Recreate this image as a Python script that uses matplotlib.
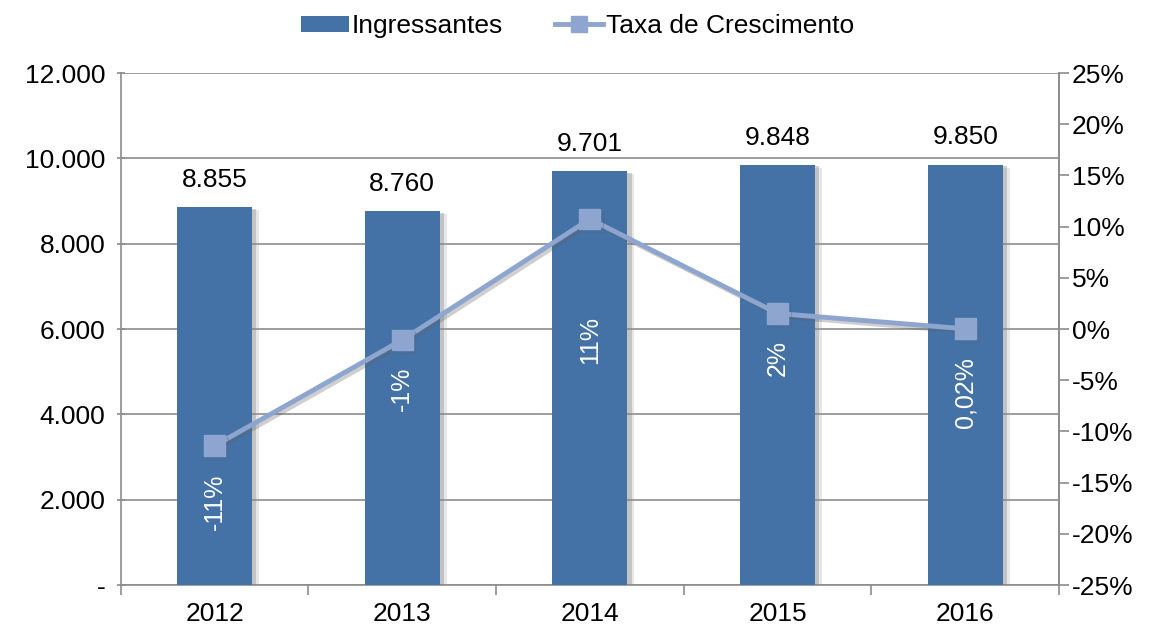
import matplotlib
matplotlib.use("Agg")
import matplotlib.pyplot as plt
import matplotlib.patheffects as pe
from matplotlib.lines import Line2D
from matplotlib.patches import Patch
import numpy as np

plt.rcParams['font.family'] = ['Liberation Sans', 'DejaVu Sans']

# dados
anos = ['2012', '2013', '2014', '2015', '2016']
ingressantes = [8855, 8760, 9701, 9848, 9850]
crescimento = [-11.4, -1.07, 10.74, 1.52, 0.02]  # em %
rotulos_cresc = ['-11%', '-1%', '11%', '2%', '0,02%']
rotulos_ingr = ['8.855', '8.760', '9.701', '9.848', '9.850']
yticks_esq = [0, 2000, 4000, 6000, 8000, 10000, 12000]
yticklabels_esq = ['-', '2.000', '4.000', '6.000', '8.000', '10.000', '12.000']
yticks_dir = [-25, -20, -15, -10, -5, 0, 5, 10, 15, 20, 25]

# posicao (eixo direito, %) dos rotulos verticais dentro das barras
pos_rotulos = [-16.9, -5.8, -1.1, -2.8, -6.2]

cor_barra = '#4472a7'
cor_linha = '#8ea6cf'
cor_eixo = '#8c8c8c'
fs = 19

fig = plt.figure(figsize=(11.55, 6.35), dpi=100)
ax = fig.add_axes([0.1045, 0.0787, 0.8125, 0.8063])
x = np.arange(len(anos))

sombra = [pe.SimplePatchShadow(offset=(5, -2), shadow_rgbFace='#a0a0a0', alpha=0.25),
          pe.SimplePatchShadow(offset=(3, -1), shadow_rgbFace='#808080', alpha=0.35),
          pe.Normal()]
bars = ax.bar(x, ingressantes, width=0.40, color=cor_barra, zorder=3, path_effects=sombra)
for xi, v, t in zip(x, ingressantes, rotulos_ingr):
    ax.annotate(t, (xi, v), xytext=(0, 11), textcoords='offset points',
                ha='center', va='bottom', fontsize=fs, color='black')

ax.set_xlim(-0.5, len(anos) - 0.5)
ax.set_ylim(0, 12000)
ax.set_yticks(yticks_esq)
ax.set_yticklabels(yticklabels_esq, fontsize=fs)
ax.set_xticks(x)
ax.set_xticklabels(anos, fontsize=fs)
ax.set_xticks(np.arange(len(anos) + 1) - 0.5, minor=True)
ax.tick_params(axis='x', which='major', length=0, pad=12)
ax.tick_params(axis='x', which='minor', length=7, color=cor_eixo, width=1.2, direction='out')
ax.tick_params(axis='y', length=6, color=cor_eixo, width=1.2, direction='inout', pad=8)
ax.grid(axis='y', color=cor_eixo, linewidth=1.2, zorder=0)
ax.spines['top'].set_visible(False)
for s in ['left', 'bottom', 'right']:
    ax.spines[s].set_color(cor_eixo)
    ax.spines[s].set_linewidth(1.2)

ax2 = ax.twinx()
ax2.set_ylim(-25, 25)
ax2.set_yticks(yticks_dir)
ax2.set_yticklabels(['%d%%' % v for v in yticks_dir], fontsize=fs)
ax2.tick_params(axis='y', length=7, color=cor_eixo, width=1.2, direction='out', pad=2)
for s in ['top', 'left', 'bottom']:
    ax2.spines[s].set_visible(False)
ax2.spines['right'].set_color(cor_eixo)
ax2.spines['right'].set_linewidth(1.2)

ax2.plot(x, crescimento, color=cor_linha, linewidth=3.5, marker='s', markersize=15,
         markerfacecolor=cor_linha, markeredgecolor=cor_linha, zorder=4,
         path_effects=[pe.SimpleLineShadow(offset=(2, -2), shadow_color='#606060', alpha=0.3), pe.Normal()])
for xi, py, t in zip(x, pos_rotulos, rotulos_cresc):
    ax2.text(xi, py, t, rotation=90, ha='center', va='center', fontsize=18, color='white', zorder=5)

handles = [Patch(facecolor=cor_barra, edgecolor='none'),
           Line2D([], [], color=cor_linha, linewidth=3.5, marker='s', markersize=12)]
fig.legend(handles, ['Ingressantes', 'Taxa de Crescimento'], loc='upper center',
           bbox_to_anchor=(0.5, 1.015), ncol=2, frameon=False, fontsize=fs,
           handlelength=1.8, handletextpad=0.1, columnspacing=2.0, handleheight=0.6)

fig.savefig('out.png', dpi=100)
